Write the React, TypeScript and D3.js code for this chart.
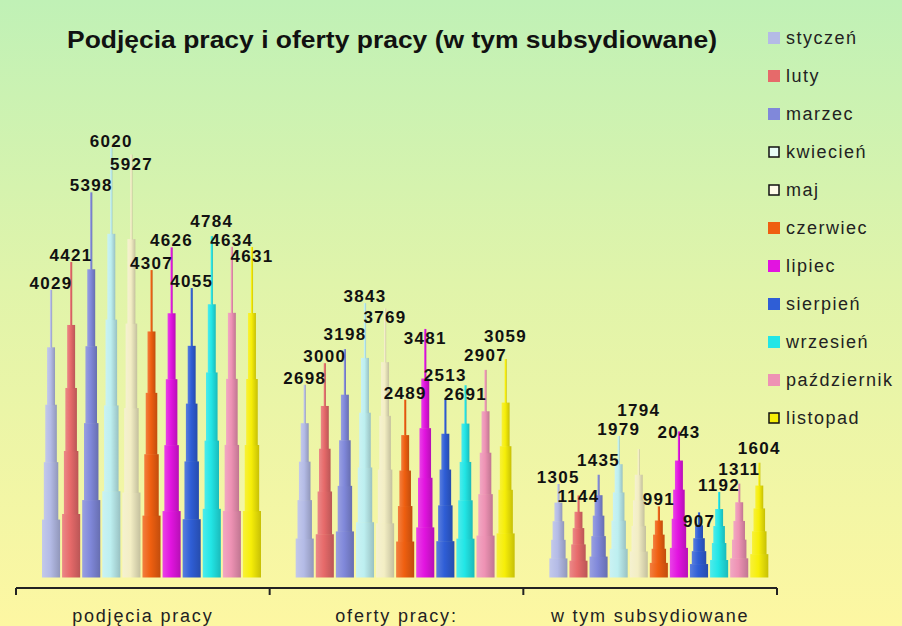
import * as d3 from 'd3'

const groups = ['podjęcia pracy', 'oferty pracy:', 'w tym subsydiowane']
const months = ['styczeń', 'luty', 'marzec', 'kwiecień', 'maj', 'czerwiec', 'lipiec', 'sierpień', 'wrzesień', 'październik', 'listopad']
const podjecia = [4029, 4421, 5398, 6020, 5927, 4307, 4626, 4055, 4784, 4634, 4631]
const oferty = [2698, 3000, 3198, 3843, 3769, 2489, 3481, 2513, 2691, 2907, 3059]
const subsydiowane = [1305, 1144, 1435, 1979, 1794, 991, 2043, 907, 1192, 1311, 1604]
const colors = ['#b4bbe6', '#e66a6a', '#8088da', '#bdeff0', '#f3eec4', '#ef5f10', '#e214e0', '#2f5ed6', '#22e6e6', '#ee92b4', '#f6ee08']
const outlined = ['kwiecień', 'maj', 'listopad']

const W = 902
const H = 626
const FONT = 'Liberation Sans, Arial, sans-serif'

// step heights (fraction of bar) and widths (fraction of bar width)
const tiers = [
  { top: 0.2, w: 1 },
  { top: 0.4, w: 0.8 },
  { top: 0.6, w: 0.64 },
  { top: 0.8, w: 0.44 },
  { top: 1.0, w: 0.12 },
]

export default function App() {
  const series = [podjecia, oferty, subsydiowane]

  const x0 = d3.scaleBand().domain(groups).range([16, 777])
  const x1 = d3.scaleBand().domain(months).range([25, 246])
  const y = d3.scaleLinear().domain([0, 6020]).range([577, 148])
  const barW = x1.bandwidth() * 0.9

  const legendY = d3.scalePoint().domain(months).range([38, 418])

  // value labels: sit on the bar top, nudged up/down when they collide
  const labelW = 46
  const labelH = 16
  const labels: { x: number; y: number; v: number }[] = []
  groups.forEach((g, gi) => {
    const placed: { x: number; y: number }[] = []
    months.forEach((m, mi) => {
      const v = series[gi][mi]
      const cx = (x0(g) || 0) + (x1(m) || 0) + x1.bandwidth() / 2
      const base = y(v) - 1
      const tries = [0, 8, -8, 16, -16, 24, -24, 32, -32, 40]
      let by = base
      for (const d of tries) {
        const cand = base + d
        const hit = placed.some(p => Math.abs(p.x - cx) < labelW && Math.abs(p.y - cand) < labelH)
        if (!hit) { by = cand; break }
      }
      placed.push({ x: cx, y: by })
      labels.push({ x: cx, y: by, v })
    })
  })

  return (
    <svg width={W} height={H} style={{ position: 'absolute', left: 0, top: 0 }}>
      <defs>
        <linearGradient id="bg" x1="0" y1="0" x2="0" y2="1">
          <stop offset="0" stopColor="#c0f1b6" />
          <stop offset="0.45" stopColor="#e0f4aa" />
          <stop offset="1" stopColor="#fdf7a2" />
        </linearGradient>
        {colors.map((c, i) => (
          <linearGradient key={i} id={`g${i}`} x1="0" y1="0" x2="1" y2="0">
            <stop offset="0" stopColor={d3.interpolateRgb(c, '#ffffff')(0.2)} />
            <stop offset="0.45" stopColor={c} />
            <stop offset="1" stopColor={d3.color(c)!.darker(0.6).formatHex()} />
          </linearGradient>
        ))}
      </defs>
      <rect x={0} y={0} width={W} height={H} fill="url(#bg)" />

      <text x={392} y={48} textAnchor="middle" fontFamily={FONT}
        fontWeight="bold" fontSize={24} fill="#111" textLength={650} lengthAdjust="spacingAndGlyphs">
        Podjęcia pracy i oferty pracy (w tym subsydiowane)
      </text>

      {/* bars */}
      {groups.map((g, gi) => (
        <g key={g}>
          {months.map((m, mi) => {
            const v = series[gi][mi]
            const cx = (x0(g) || 0) + (x1(m) || 0) + x1.bandwidth() / 2
            const h = y(0) - y(v)
            return (
              <g key={m}>
                {tiers.map((t, ti) => {
                  const prev = ti === 0 ? 0 : tiers[ti - 1].top
                  const tw = Math.max(2, barW * t.w)
                  return (
                    <rect key={ti} x={cx - tw / 2} y={y(0) - h * t.top}
                      width={tw} height={h * (t.top - prev) + 0.5}
                      fill={`url(#g${mi})`} />
                  )
                })}
              </g>
            )
          })}
        </g>
      ))}

      {/* value labels */}
      {labels.map((l, i) => (
        <text key={i} x={l.x} y={l.y} textAnchor="middle" fontFamily={FONT} fontWeight="bold"
          fontSize={17} letterSpacing={1.3} fill="#111">
          {l.v}
        </text>
      ))}

      {/* category axis */}
      <line x1={16} x2={777} y1={588} y2={588} stroke="#222" strokeWidth={2} />
      {[...groups.map(g => x0(g) || 0), 777].map((t, i) => (
        <line key={i} x1={t} x2={t} y1={588} y2={595} stroke="#222" strokeWidth={2} />
      ))}
      {groups.map(g => (
        <text key={g} x={(x0(g) || 0) + x0.bandwidth() / 2} y={622} textAnchor="middle"
          fontFamily={FONT} fontSize={18} letterSpacing={1.8} fill="#222">
          {g}
        </text>
      ))}

      {/* legend */}
      {months.map((m, i) => {
        const cy = legendY(m) || 0
        const isOut = outlined.includes(m)
        return (
          <g key={m}>
            <rect x={isOut ? 769 : 768} y={cy - (isOut ? 5 : 6)} width={isOut ? 10 : 12} height={isOut ? 10 : 12}
              fill={m === 'kwiecień' ? '#e8fdf6' : m === 'maj' ? '#fffbea' : colors[i]}
              stroke={isOut ? '#111' : 'none'} strokeWidth={1.5} />
            <text x={786} y={cy + 6} fontFamily={FONT} fontSize={18} letterSpacing={1.5} fill="#222">
              {m}
            </text>
          </g>
        )
      })}
    </svg>
  )
}
